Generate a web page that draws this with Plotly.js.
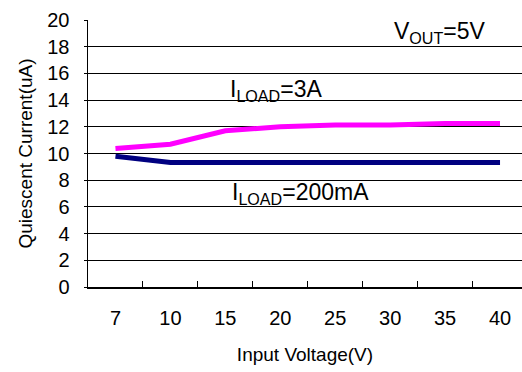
<!DOCTYPE html>
<html><head><meta charset="utf-8">
<script src="https://cdn.plot.ly/plotly-3.0.1.min.js"></script>
<style>html,body{margin:0;padding:0;background:#fff}#c{width:522px;height:372px}</style>
</head><body><div id="c"></div>
<script>
const categories = ['7','10','15','20','25','30','35','40'];
const load3A = [10.38, 10.7, 11.7, 12.0, 12.13, 12.13, 12.25, 12.25];
const load200mA = [9.8, 9.33, 9.33, 9.33, 9.33, 9.33, 9.33, 9.33];
const yTicks = [0,2,4,6,8,10,12,14,16,18,20];

const font = 'Liberation Sans, Arial, sans-serif';
const traces = [
  {x: categories, y: load200mA, type:'scatter', mode:'lines', line:{color:'#000080', width:5}, showlegend:false},
  {x: categories, y: load3A, type:'scatter', mode:'lines', line:{color:'#FF00FF', width:5}, showlegend:false}
];
const layout = {
  width:522, height:372,
  margin:{l:88, r:0, t:20, b:85},
  paper_bgcolor:'#fff', plot_bgcolor:'#fff',
  font:{family:font, color:'#000', size:20},
  xaxis:{
    type:'category', range:[-0.5, 7.4],
    showgrid:false, zeroline:false,
    showline:true, linecolor:'#000', linewidth:2,
    ticks:'inside', tickson:'boundaries', ticklen:6, tickcolor:'#000', tickwidth:1,
    ticklabelstandoff:12,
    tickfont:{size:20},
    title:{text:'Input Voltage(V)', font:{size:19}, standoff:20}
  },
  yaxis:{
    range:[0,20], tickvals:yTicks, ticktext:yTicks.map(String),
    showgrid:true, gridcolor:'#000', gridwidth:1, zeroline:false,
    showline:true, linecolor:'#000', linewidth:1.5,
    ticks:'outside', ticklen:3, tickcolor:'#000',
    ticklabelstandoff:10,
    tickfont:{size:20},
    title:{text:'Quiescent Current(uA)', font:{size:19}, standoff:9}
  },
  annotations:[
    {xref:'paper', yref:'paper', x:(392-88)/434, y:(287-32)/267, xanchor:'left', yanchor:'middle', text:'V<sub>OUT</sub>=5V', showarrow:false, font:{size:23}},
    {xref:'paper', yref:'paper', x:(228-88)/434, y:(287-90)/267, xanchor:'left', yanchor:'middle', text:'I<sub>LOAD</sub>=3A', showarrow:false, font:{size:23}},
    {xref:'paper', yref:'paper', x:(230-88)/434, y:(287-193)/267, xanchor:'left', yanchor:'middle', text:'I<sub>LOAD</sub>=200mA', showarrow:false, font:{size:23}}
  ]
};
Plotly.newPlot('c', traces, layout, {displayModeBar:false, staticPlot:true});
</script></body></html>
